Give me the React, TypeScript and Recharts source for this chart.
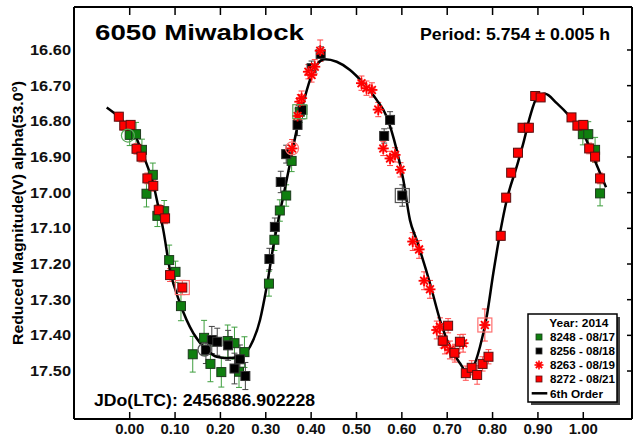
import React from 'react';
import { ComposedChart, Scatter, Line, XAxis, YAxis, ErrorBar } from 'recharts';

// ---------- data ----------
const xTicks = [0, 0.1, 0.2, 0.3, 0.4, 0.5, 0.6, 0.7, 0.8, 0.9, 1.0];
const yTicks = [16.6, 16.7, 16.8, 16.9, 17.0, 17.1, 17.2, 17.3, 17.4, 17.5];
const xDomain: [number, number] = [-0.1228, 1.1074];
const yDomain: [number, number] = [16.4795, 17.6345];

// [phase, reduced magnitude, error]
const obs8248: [number, number, number][] = [
  [0.000, 16.838, 0.03], [0.014, 16.836, 0.033], [0.027, 16.880, 0.03], [0.037, 17.003, 0.037],
  [0.051, 16.950, 0.033], [0.061, 17.065, 0.03], [0.076, 17.052, 0.03], [0.087, 17.189, 0.042],
  [0.101, 17.222, 0.03], [0.113, 17.318, 0.041], [0.139, 17.453, 0.05], [0.164, 17.407, 0.049],
  [0.178, 17.480, 0.05], [0.202, 17.503, 0.042], [0.216, 17.416, 0.045], [0.231, 17.422, 0.045],
  [0.241, 17.502, 0.044], [0.253, 17.447, 0.043], [0.307, 17.255, 0.035], [0.319, 17.132, 0.03],
  [0.331, 17.050, 0.03], [0.345, 17.008, 0.03], [0.357, 16.911, 0.03], [0.375, 16.773, 0.03],
  [0.999, 16.836, 0.03], [1.011, 16.836, 0.035], [1.026, 16.880, 0.035], [1.037, 17.002, 0.035],
];
const obs8256: [number, number, number][] = [
  [0.168, 17.441, 0.038], [0.181, 17.413, 0.038], [0.193, 17.418, 0.038], [0.217, 17.428, 0.042],
  [0.231, 17.493, 0.043], [0.243, 17.467, 0.04], [0.255, 17.514, 0.038], [0.308, 17.186, 0.03],
  [0.320, 17.096, 0.025], [0.333, 16.970, 0.03], [0.345, 16.892, 0.025], [0.370, 16.810, 0.03],
  [0.381, 16.768, 0.025], [0.401, 16.651, 0.02], [0.421, 16.611, 0.02], [0.561, 16.841, 0.02],
  [0.574, 16.796, 0.023], [0.601, 17.008, 0.03],
];
const obs8263: [number, number, number][] = [
  [0.358, 16.876, 0.025], [0.370, 16.785, 0.02], [0.375, 16.745, 0.02], [0.379, 16.735, 0.02],
  [0.394, 16.661, 0.02], [0.401, 16.670, 0.02], [0.408, 16.647, 0.02], [0.420, 16.602, 0.03],
  [0.511, 16.693, 0.02], [0.522, 16.707, 0.02], [0.534, 16.712, 0.02], [0.548, 16.767, 0.02],
  [0.559, 16.876, 0.02], [0.574, 16.904, 0.02], [0.585, 16.894, 0.02], [0.597, 16.936, 0.02],
  [0.624, 17.137, 0.025], [0.638, 17.159, 0.025], [0.649, 17.247, 0.025], [0.662, 17.271, 0.025],
  [0.677, 17.385, 0.025], [0.684, 17.376, 0.025], [0.695, 17.427, 0.025], [0.706, 17.441, 0.025],
  [0.717, 17.450, 0.025], [0.735, 17.422, 0.025], [0.783, 17.371, 0.045],
];
const obs8272: [number, number, number][] = [
  [-0.024, 16.787, 0.012], [-0.012, 16.812, 0.012], [0.002, 16.810, 0.012], [0.015, 16.877, 0.015],
  [0.026, 16.899, 0.015], [0.039, 16.960, 0.015], [0.052, 16.981, 0.015], [0.064, 17.049, 0.015],
  [0.078, 17.072, 0.015], [0.089, 17.231, 0.018], [0.116, 17.266, 0.02], [0.690, 17.415, 0.02],
  [0.702, 17.373, 0.02], [0.716, 17.449, 0.02], [0.728, 17.418, 0.02], [0.741, 17.506, 0.02],
  [0.754, 17.491, 0.02], [0.766, 17.511, 0.026], [0.778, 17.480, 0.02], [0.791, 17.460, 0.02],
  [0.818, 17.121, 0.012], [0.830, 17.014, 0.012], [0.841, 16.944, 0.012], [0.856, 16.888, 0.012],
  [0.866, 16.818, 0.012], [0.880, 16.818, 0.012], [0.894, 16.729, 0.01], [0.906, 16.733, 0.01],
  [0.974, 16.789, 0.01], [0.987, 16.812, 0.012], [1.000, 16.810, 0.012], [1.013, 16.876, 0.015],
  [1.026, 16.899, 0.015], [1.037, 16.960, 0.015],
];

// highlighted points: [phase, mag, session]
const boxedPoints: [number, number, string][] = [
  [0.375, 16.773, '8248'], [0.601, 17.008, '8256'], [0.116, 17.266, '8272'], [0.783, 17.371, '8263'],
];
const circledPoints: [number, number, string][] = [
  [-0.004, 16.840, '8248'], [0.358, 16.876, '8263'], [0.165, 17.440, '8256'],
];

// 6th order Fourier fit
const fitPhase = [
  -0.0507, -0.0236, 0.0007, 0.0139, 0.0249, 0.0381, 0.0514, 0.0624, 0.0741, 0.0888, 0.1109,
  0.1402, 0.1698, 0.1918, 0.2138, 0.2432, 0.2652, 0.2873, 0.3020, 0.3166, 0.3276, 0.3386,
  0.3534, 0.3682, 0.3827, 0.3975, 0.4123, 0.4306, 0.4564, 0.4857, 0.5150, 0.5445, 0.5666,
  0.5886, 0.6032, 0.6179, 0.6327, 0.6620, 0.6841, 0.7061, 0.7282, 0.7429, 0.7575, 0.7723,
  0.7870, 0.8016, 0.8164, 0.8311, 0.8532, 0.8677, 0.8825, 0.8973, 0.9156, 0.9414, 0.9707,
  1.0000, 1.0220, 1.0501,
];
const fitMag = [
  16.761, 16.788, 16.821, 16.844, 16.880, 16.922, 16.973, 17.035, 17.105, 17.217, 17.310,
  17.394, 17.441, 17.460, 17.464, 17.460, 17.432, 17.357, 17.264, 17.151, 17.077, 17.011,
  16.918, 16.824, 16.749, 16.684, 16.642, 16.626, 16.633, 16.656, 16.693, 16.740, 16.787,
  16.880, 16.964, 17.077, 17.133, 17.254, 17.357, 17.432, 17.478, 17.502, 17.488, 17.432,
  17.348, 17.226, 17.114, 17.021, 16.927, 16.862, 16.787, 16.735, 16.723, 16.749, 16.787,
  16.834, 16.899, 16.985,
];

const titleText = '6050 Miwablock';
const periodText = 'Period: 5.754 \u00B1 0.005 h';
const epochText = 'JDo(LTC): 2456886.902228';
const yLabelText = 'Reduced Magnitude(V) alpha(53.0\u00B0)';
const legendTitle = 'Year: 2014';
const legendLabels = ['8248 - 08/17', '8256 - 08/18', '8263 - 08/19', '8272 - 08/21', '6th Order'];

// ---------- helpers ----------
const toPts = (arr: [number, number, number][]) => arr.map(([x, y, e]) => ({ x, y, err: e }));
const fitData = fitPhase.map((x, i) => ({ x, y: fitMag[i] }));
const boxData = boxedPoints.map(([x, y, s]) => ({ x, y, s }));
const circData = circledPoints.map(([x, y, s]) => ({ x, y, s }));

const FONT = '"Liberation Sans", Arial, sans-serif';
const GREEN = '#0f7f0f';
const RED = '#ff0000';

const hiColor: Record<string, string> = {
  '8248': '#5aa85a', '8256': '#555555', '8263': '#ff7070', '8272': '#ff7070',
};

const squareShape = (fill: string, stroke: string) => (props: any) => {
  const { cx, cy } = props;
  if (cx == null || cy == null) return <g />;
  return <rect x={cx - 4.5} y={cy - 4.5} width={9} height={9} fill={fill} stroke={stroke} strokeWidth={1} />;
};

const StarGlyph = ({ cx, cy, r, w }: { cx: number; cy: number; r: number; w: number }) => {
  const main = [0, 45, 90, 135];
  const minor = [22.5, 67.5, 112.5, 157.5];
  return (
    <g>
      {minor.map((a, i) => {
        const rad = (a * Math.PI) / 180;
        const dx = Math.cos(rad) * r * 0.75;
        const dy = Math.sin(rad) * r * 0.75;
        return <line key={'m' + i} x1={cx - dx} y1={cy - dy} x2={cx + dx} y2={cy + dy} stroke="#ff8080" strokeWidth={w * 0.5} />;
      })}
      {main.map((a, i) => {
        const rad = (a * Math.PI) / 180;
        const dx = Math.cos(rad) * r;
        const dy = Math.sin(rad) * r;
        return <line key={i} x1={cx - dx} y1={cy - dy} x2={cx + dx} y2={cy + dy} stroke={RED} strokeWidth={w} />;
      })}
    </g>
  );
};

const starShape = (props: any) => {
  const { cx, cy } = props;
  if (cx == null || cy == null) return <g />;
  return <StarGlyph cx={cx} cy={cy} r={5.5} w={1.8} />;
};

const boxShape = (props: any) => {
  const { cx, cy, payload } = props;
  if (cx == null || cy == null) return <g />;
  return <rect x={cx - 7} y={cy - 7} width={14} height={14} fill="none" stroke={hiColor[payload.s]} strokeWidth={1.2} />;
};
const circShape = (props: any) => {
  const { cx, cy, payload } = props;
  if (cx == null || cy == null) return <g />;
  return <circle cx={cx} cy={cy} r={6.5} fill="none" stroke={hiColor[payload.s]} strokeWidth={1.2} />;
};

const YTick = (props: any) => {
  const { y, payload } = props;
  return (
    <text x={71} y={y + 5} textAnchor="end" fontFamily={FONT} fontWeight="bold" fontSize={14}
      fill="#111" textLength={41} lengthAdjust="spacingAndGlyphs">
      {Number(payload.value).toFixed(2)}
    </text>
  );
};
const XTick = (props: any) => {
  const { x, payload } = props;
  return (
    <text x={x} y={433.5} textAnchor="middle" fontFamily={FONT} fontWeight="bold" fontSize={14}
      fill="#111" textLength={29} lengthAdjust="spacingAndGlyphs">
      {Number(payload.value).toFixed(2)}
    </text>
  );
};
const NoTick = () => <g />;

const axisLineStyle = { stroke: '#000', strokeWidth: 2 };
const tickLineStyle = { stroke: '#000', strokeWidth: 1.5 };

export default function App() {
  const legendRows = [337, 351, 365, 379, 393.3];
  return (
    <div style={{ position: 'fixed', left: 0, top: 0, width: 633, height: 441, background: '#fff' }}>
      <ComposedChart width={633} height={441} margin={{ top: 6, right: 0, bottom: 0, left: 0 }}>
        <XAxis xAxisId="b" dataKey="x" type="number" domain={xDomain} ticks={xTicks} allowDataOverflow
          height={22} axisLine={axisLineStyle} tickLine={tickLineStyle} tickSize={-7} tick={<XTick />} interval={0} />
        <XAxis xAxisId="t" orientation="top" dataKey="x" type="number" domain={xDomain} ticks={xTicks} allowDataOverflow
          height={1} axisLine={axisLineStyle} tickLine={tickLineStyle} tickSize={-8} tick={<NoTick />} interval={0} />
        <YAxis yAxisId="l" dataKey="y" type="number" domain={yDomain} ticks={yTicks} reversed allowDataOverflow
          width={74} axisLine={axisLineStyle} tickLine={false} tickSize={0} tick={<YTick />} interval={0} />
        <YAxis yAxisId="r" orientation="right" dataKey="y" type="number" domain={yDomain} ticks={yTicks} reversed allowDataOverflow
          width={1} axisLine={axisLineStyle} tickLine={tickLineStyle} tickSize={-5} tick={<NoTick />} interval={0} />

        <Scatter xAxisId="b" yAxisId="l" data={toPts(obs8248)} shape={squareShape(GREEN, '#1d3a1d')} isAnimationActive={false}>
          <ErrorBar dataKey="err" direction="y" width={3} stroke="#3f9f3f" strokeWidth={1} />
        </Scatter>
        <Scatter xAxisId="b" yAxisId="l" data={toPts(obs8256)} shape={squareShape('#000', '#333')} isAnimationActive={false}>
          <ErrorBar dataKey="err" direction="y" width={3} stroke="#444" strokeWidth={1} />
        </Scatter>
        <Scatter xAxisId="b" yAxisId="l" data={toPts(obs8263)} shape={starShape} isAnimationActive={false}>
          <ErrorBar dataKey="err" direction="y" width={3} stroke="#ff4040" strokeWidth={1} />
        </Scatter>
        <Scatter xAxisId="b" yAxisId="l" data={toPts(obs8272)} shape={squareShape(RED, '#5a1010')} isAnimationActive={false}>
          <ErrorBar dataKey="err" direction="y" width={3} stroke="#ff5050" strokeWidth={1} />
        </Scatter>
        <Scatter xAxisId="b" yAxisId="l" data={boxData} shape={boxShape} isAnimationActive={false} />
        <Scatter xAxisId="b" yAxisId="l" data={circData} shape={circShape} isAnimationActive={false} />
        <Line xAxisId="b" yAxisId="l" data={fitData} dataKey="y" type="monotone" stroke="#000"
          strokeWidth={2.5} dot={false} activeDot={false} isAnimationActive={false} />
      </ComposedChart>

      <svg width={633} height={441} style={{ position: 'absolute', left: 0, top: 0, pointerEvents: 'none' }}>
        <text x={95} y={39.5} fontFamily={FONT} fontWeight="bold" fontSize={22} fill="#000"
          textLength={209} lengthAdjust="spacingAndGlyphs">{titleText}</text>
        <text x={420} y={39.5} fontFamily={FONT} fontWeight="bold" fontSize={16.5} fill="#000"
          textLength={190} lengthAdjust="spacingAndGlyphs">{periodText}</text>
        <text x={94} y={405.5} fontFamily={FONT} fontWeight="bold" fontSize={16} fill="#000"
          textLength={221} lengthAdjust="spacingAndGlyphs">{epochText}</text>
        <text transform="translate(22.5,213) rotate(-90)" x={0} y={0} textAnchor="middle" fontFamily={FONT}
          fontWeight="bold" fontSize={15} fill="#000" textLength={264} lengthAdjust="spacingAndGlyphs">{yLabelText}</text>

        {/* legend */}
        <rect x={531} y={317} width={89} height={88} fill="#444" />
        <rect x={528} y={314} width={89} height={88} fill="#fff" stroke="#000" strokeWidth={1.5} />
        <text x={549.3} y={326.5} fontFamily={FONT} fontWeight="bold" fontSize={11.5} fill="#000"
          textLength={59} lengthAdjust="spacingAndGlyphs">{legendTitle}</text>
        <rect x={536} y={legendRows[0] - 3} width={6} height={6} fill={GREEN} stroke="#1d3a1d" strokeWidth={0.8} />
        <rect x={536} y={legendRows[1] - 3} width={6} height={6} fill="#000" stroke="#333" strokeWidth={0.8} />
        <StarGlyph cx={539} cy={legendRows[2]} r={4.5} w={1.6} />
        <rect x={536} y={legendRows[3] - 3} width={6} height={6} fill={RED} stroke="#5a1010" strokeWidth={0.8} />
        <line x1={531.7} y1={legendRows[4]} x2={547.3} y2={legendRows[4]} stroke="#000" strokeWidth={2.5} />
        {legendLabels.map((t, i) => (
          <text key={t} x={550} y={legendRows[i] + 4.3} fontFamily={FONT} fontWeight="bold" fontSize={11.5} fill="#000"
            textLength={i === 4 ? 53 : 65} lengthAdjust="spacingAndGlyphs">{t}</text>
        ))}
      </svg>
    </div>
  );
}
